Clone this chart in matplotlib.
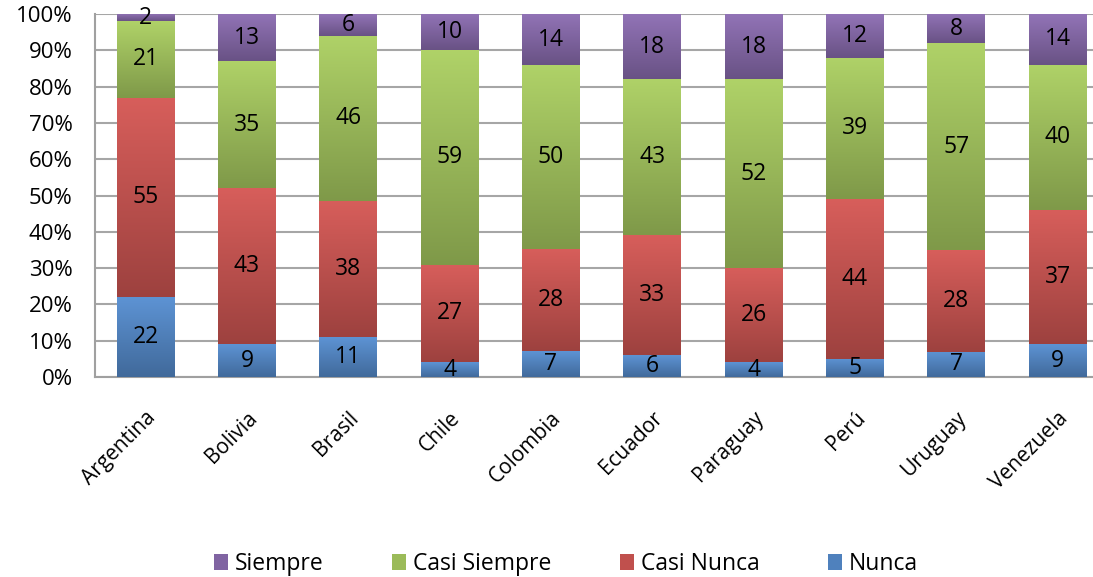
import numpy as np
import matplotlib.pyplot as plt
import matplotlib.colors as mcolors

paises = ['Argentina', 'Bolivia', 'Brasil', 'Chile', 'Colombia',
          'Ecuador', 'Paraguay', 'Perú', 'Uruguay', 'Venezuela']
nunca = [22, 9, 11, 4, 7, 6, 4, 5, 7, 9]
casi_nunca = [55, 43, 38, 27, 28, 33, 26, 44, 28, 37]
casi_siempre = [21, 35, 46, 59, 50, 43, 52, 39, 57, 40]
siempre = [2, 13, 6, 10, 14, 18, 18, 12, 8, 14]

series = [('Nunca', nunca, '#4F81BD'),
          ('Casi Nunca', casi_nunca, '#C0504D'),
          ('Casi Siempre', casi_siempre, '#9BBB59'),
          ('Siempre', siempre, '#8064A2')]

plt.rcParams['font.family'] = ['Open Sans', 'DejaVu Sans']

fig = plt.figure(figsize=(10.93, 5.77), dpi=100)
ax = fig.add_axes([0.0869, 0.3466, 0.927, 0.629])

x = np.arange(len(paises))
totales = np.array(nunca) + np.array(casi_nunca) + np.array(casi_siempre) + np.array(siempre)
base = np.zeros(len(paises))
ancho = 0.57


def degradado(color):
    # claro arriba, oscuro abajo
    c = np.array(mcolors.to_rgb(color))
    arriba = np.clip(c * 1.08 + 0.03, 0, 1)
    abajo = c * 0.82
    t = np.linspace(0, 1, 64)[:, None]
    return (abajo * (1 - t) + arriba * t)[:, None, :]


for nombre, valores, color in series:
    pct = np.array(valores) / totales * 100
    barras = ax.bar(x, pct, ancho, bottom=base, color=color, label=nombre,
                    zorder=3, linewidth=0)
    grad = degradado(color)
    for b in barras:
        x0, y0 = b.get_x(), b.get_y()
        img = ax.imshow(grad, extent=[x0, x0 + b.get_width(), y0, y0 + b.get_height()],
                        origin='lower', aspect='auto', zorder=3.5, interpolation='bilinear')
        img.set_clip_path(b)
    for xi, yb, p, v in zip(x, base, pct, valores):
        ax.text(xi, yb + p / 2, str(v), ha='center', va='center',
                fontsize=16.5, color='black', zorder=5)
    base += pct

ax.set_xlim(-0.5, len(paises) - 0.5)
ax.set_ylim(0, 100)
ax.set_yticks(np.arange(0, 101, 10))
ax.set_yticklabels([f'{v}%' for v in range(0, 101, 10)], fontsize=16)
ax.set_xticks(x)
ax.set_xticklabels(paises, rotation=45, ha='right', rotation_mode='anchor', fontsize=15)
ax.tick_params(axis='x', length=0, pad=22)
ax.tick_params(axis='y', length=0, pad=16)
ax.yaxis.grid(True, color='#A6A6A6', linewidth=1.5, zorder=0)
ax.set_axisbelow(True)
for s in ['top', 'right']:
    ax.spines[s].set_visible(False)
for s in ['left', 'bottom']:
    ax.spines[s].set_color('#A0A0A0')
    ax.spines[s].set_linewidth(1.5)

handles, labels = ax.get_legend_handles_labels()
fig.legend(handles[::-1], labels[::-1], loc='center', bbox_to_anchor=(0.518, 0.022),
           ncol=4, frameon=False, fontsize=16.5, handlelength=0.6, handleheight=0.7,
           handletextpad=0.3, columnspacing=3.0)

fig.savefig('out.png', dpi=100)
